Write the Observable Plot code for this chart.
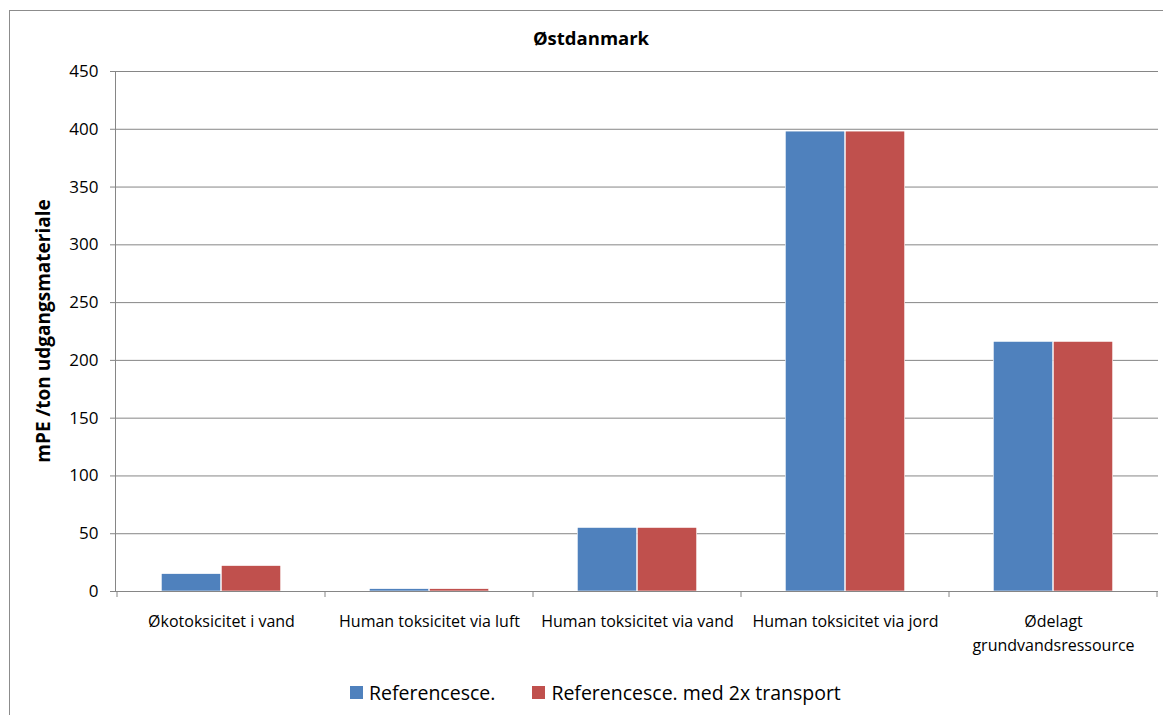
<!DOCTYPE html>
<html>
<head>
<meta charset="utf-8">
<script src="https://cdn.jsdelivr.net/npm/d3@7"></script>
<script src="https://cdn.jsdelivr.net/npm/@observablehq/plot@0.6"></script>
<style>
  body { margin: 0; background: #fff; font-family: "Open Sans", sans-serif; }
  #wrap { position: relative; width: 1163px; height: 715px; overflow: hidden; }
  #frame { position: absolute; left: 9px; top: 10px; width: 1200px; height: 800px; border: 1px solid #8c8c8c; }
  #title { position: absolute; left: 0; width: 1182px; top: 25px; text-align: center; font-weight: bold; font-size: 18.5px; color: #000; }
  #chart { position: absolute; left: 0; top: 60px; }
  #legend { position: absolute; top: 679px; left: 350px; display: flex; align-items: center; font-size: 19.5px; color: #000; }
  .sw { display: inline-block; width: 13px; height: 13px; margin-right: 6px; }
  .item { display: flex; align-items: center; margin-right: 37px; }
</style>
</head>
<body>
<div id="wrap">
  <div id="frame"></div>
  <div id="title">Østdanmark</div>
  <div id="chart"></div>
  <div id="legend"></div>
</div>
<script>
const categories = ["Økotoksicitet i vand", "Human toksicitet via luft", "Human toksicitet via vand", "Human toksicitet via jord", "Ødelagt\ngrundvandsressource"];
const seriesNames = ["Referencesce.", "Referencesce. med 2x transport"];
const seriesColors = ["#4F81BD", "#C0504D"];
const refValues = [15, 2, 55, 398, 216];
const transportValues = [22, 2, 55, 398, 216];
const yTicks = [0, 50, 100, 150, 200, 250, 300, 350, 400, 450];

const rows = [];
categories.forEach((c, i) => {
  rows.push({category: c, series: seriesNames[0], value: refValues[i]});
  rows.push({category: c, series: seriesNames[1], value: transportValues[i]});
});

const W = 1163, H = 601, ML = 115, MR = 5, MT = 11, MB = 70;
const band = (W - ML - MR) / categories.length;
const barW = 60;
const outer = band / 2 - barW;

const chart = Plot.plot({
  width: W,
  height: H,
  marginLeft: ML,
  marginRight: MR,
  marginTop: MT,
  marginBottom: MB,
  style: {fontFamily: "Open Sans, sans-serif", fontSize: "16px", color: "#000", background: "transparent"},
  x: {domain: categories, padding: 0, label: null},
  y: {domain: [0, 450], ticks: yTicks, label: null},
  color: {domain: seriesNames, range: seriesColors},
  marks: [
    Plot.gridY(yTicks, {stroke: "#868686", strokeOpacity: 1}),
    Plot.barY(rows.filter(d => d.series === seriesNames[0]), {x: "category", y: "value", fill: "series", insetLeft: outer, insetRight: band / 2, stroke: "#fff", strokeWidth: 0.6}),
    Plot.barY(rows.filter(d => d.series === seriesNames[1]), {x: "category", y: "value", fill: "series", insetLeft: band / 2, insetRight: outer, stroke: "#fff", strokeWidth: 0.6}),
    Plot.axisY(yTicks, {tickSize: 5, tickPadding: 12, stroke: "#868686", fontSize: 17, label: null, color: "#000"}),
    Plot.axisX({tickSize: 0, tickPadding: 18, lineHeight: 1.5, fontSize: 16, label: null}),
    Plot.frame({anchor: "left", stroke: "#868686"}),
    Plot.ruleY([0], {stroke: "#868686", strokeWidth: 1.2})
  ]
});

// category boundary tick marks under the x axis
const xs = chart.scale("x");
const ys = chart.scale("y");
const y0 = ys.apply(0);
const svg = d3.select(chart);
const edges = categories.map(c => xs.apply(c)).concat([xs.apply(categories[categories.length - 1]) + xs.bandwidth]);
svg.append("g").selectAll("line").data(edges).join("line")
  .attr("x1", d => d).attr("x2", d => d)
  .attr("y1", y0).attr("y2", y0 + 6)
  .attr("stroke", "#868686");

// y axis title
svg.append("text")
  .attr("transform", `translate(45,${(ys.apply(0) + ys.apply(450)) / 2}) rotate(-90)`)
  .attr("text-anchor", "middle")
  .attr("dominant-baseline", "middle")
  .attr("font-weight", "bold")
  .attr("font-size", 19)
  .attr("fill", "#000")
  .text("mPE /ton udgangsmateriale");

document.getElementById("chart").appendChild(chart);

const legend = d3.select("#legend");
seriesNames.forEach((s, i) => {
  const it = legend.append("div").attr("class", "item");
  it.append("span").attr("class", "sw").style("background", seriesColors[i]);
  it.append("span").text(s);
});
</script>
</body>
</html>
